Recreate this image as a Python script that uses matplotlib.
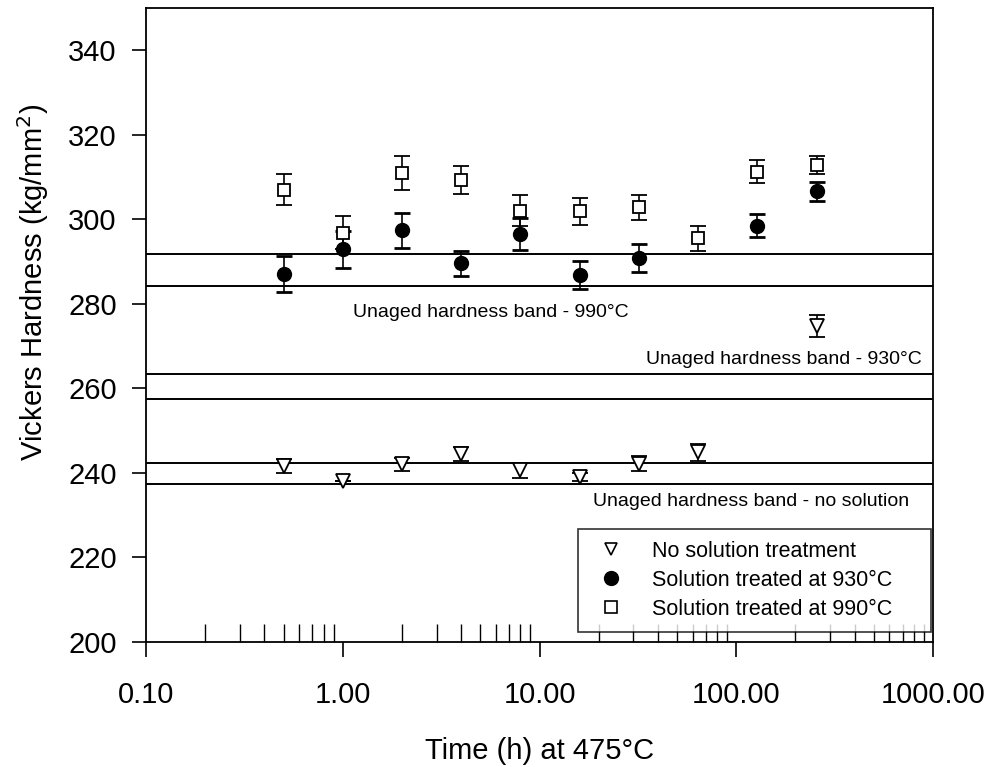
import matplotlib
matplotlib.use('Agg')

import matplotlib.pyplot as plt
from matplotlib.lines import Line2D
from matplotlib.ticker import FixedLocator, NullFormatter
import numpy as np

plt.rcParams['font.family'] = ['Liberation Sans', 'DejaVu Sans']

# ageing times (h) at 475 C
times = [0.5, 1, 2, 4, 8, 16, 32, 64, 128, 256]

# solution treated at 990 C (squares)
h990 = [307.0, 296.8, 310.9, 309.3, 302.0, 301.9, 302.8, 295.5, 311.3, 312.8]
e990 = [3.7, 3.9, 4.0, 3.4, 3.7, 3.2, 3.0, 3.0, 2.7, 2.1]

# solution treated at 930 C (circles), no 64 h point
t930 = [0.5, 1, 2, 4, 8, 16, 32, 128, 256]
h930 = [287.1, 292.9, 297.4, 289.6, 296.5, 286.8, 290.8, 298.5, 306.6]
e930 = [4.3, 4.4, 4.1, 2.9, 3.8, 3.4, 3.3, 2.7, 2.3]

# no solution treatment (triangles), no 128 h point
tns = [0.5, 1, 2, 4, 8, 16, 32, 64, 256]
hns = [241.6, 238.0, 242.0, 244.4, 240.6, 239.0, 242.2, 244.9, 274.7]
ens = [1.7, 0.0, 1.5, 1.7, 1.8, 1.0, 1.7, 2.0, 2.6]

# unaged hardness bands (lower, upper)
band990 = (284.2, 291.7)
band930 = (257.4, 263.4)
band_ns = (237.3, 242.4)

fig = plt.figure(figsize=(9.91, 7.67), dpi=100)
ax = fig.add_axes([0.1473, 0.163, 0.7942, 0.8266])

for lo, hi in [band990, band930, band_ns]:
    ax.axhline(lo, color='black', lw=1.4, zorder=1)
    ax.axhline(hi, color='black', lw=1.4, zorder=1)

ebkw = dict(ecolor='black', elinewidth=1.2, capsize=5.5, capthick=2.0,
            linestyle='none', zorder=3)
ax.errorbar(times, h990, yerr=e990, marker='s', ms=8, mfc='white',
            mec='black', mew=1.3, **ebkw)
ax.errorbar(t930, h930, yerr=e930, marker='o', ms=10, mfc='black',
            mec='black', **ebkw)
ax.errorbar(tns, hns, yerr=ens, marker='v', ms=10.5, mfc='white',
            mec='black', mew=1.3, **ebkw)

ax.text(1.13, 278.0, 'Unaged hardness band - 990\u00b0C', fontsize=14,
        ha='left', va='center')
ax.text(877, 266.9, 'Unaged hardness band - 930\u00b0C', fontsize=14,
        ha='right', va='center')
ax.text(755, 233.3, 'Unaged hardness band - no solution', fontsize=14,
        ha='right', va='center')

ax.set_xscale('log')
ax.set_xlim(0.1, 1000)
ax.set_ylim(200, 350)

ax.xaxis.set_major_locator(FixedLocator([0.1, 1, 10, 100, 1000]))
ax.set_xticklabels(['0.10', '1.00', '10.00', '100.00', '1000.00'])
minors = [m * 10.0 ** d for d in range(-1, 3) for m in range(2, 10)]
ax.xaxis.set_minor_locator(FixedLocator(minors))
ax.xaxis.set_minor_formatter(NullFormatter())
ax.tick_params(axis='x', which='major', direction='out', length=11,
               width=1.2, labelsize=21, pad=17)
ax.tick_params(axis='x', which='minor', direction='in', length=13, width=1.0)
ax.set_yticks(np.arange(200, 341, 20))
ax.tick_params(axis='y', which='major', direction='out', length=10,
               width=1.2, labelsize=21, pad=11)
for s in ax.spines.values():
    s.set_linewidth(1.3)

ax.set_xlabel('Time (h) at 475\u00b0C', fontsize=21, labelpad=20)
ax.set_ylabel('Vickers Hardness (kg/mm$^2$)', fontsize=21)
ax.yaxis.set_label_coords(-0.121, 0.568)

handles = [
    Line2D([], [], ls='none', marker='v', ms=9, mfc='white', mec='black',
           mew=1.2),
    Line2D([], [], ls='none', marker='o', ms=10, mfc='black', mec='black'),
    Line2D([], [], ls='none', marker='s', ms=8, mfc='white', mec='black',
           mew=1.2),
]
labels = ['No solution treatment', 'Solution treated at 930\u00b0C',
          'Solution treated at 990\u00b0C']
leg = ax.legend(handles, labels, loc='lower left',
                bbox_to_anchor=(0.549, 0.016, 0.448, 0.17), mode='expand',
                fontsize=15.5, frameon=True, fancybox=False, edgecolor='black',
                handletextpad=0.9, labelspacing=0.38, borderpad=0.55,
                borderaxespad=0)
leg.get_frame().set_linewidth(1.2)

fig.savefig('out.png', dpi=100)
